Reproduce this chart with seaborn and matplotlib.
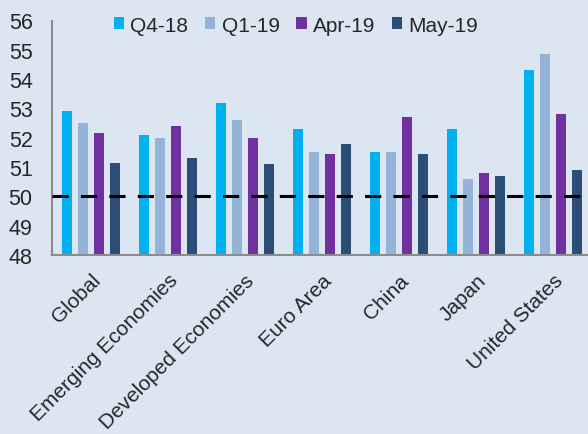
import pandas as pd
import matplotlib
matplotlib.use('Agg')
import matplotlib.pyplot as plt
import seaborn as sns

regions = ['Global', 'Emerging Economies', 'Developed Economies', 'Euro Area',
           'China', 'Japan', 'United States']
periods = ['Q4-18', 'Q1-19', 'Apr-19', 'May-19']
q4_18 = [52.9, 52.1, 53.2, 52.3, 51.5, 52.3, 54.3]
q1_19 = [52.5, 52.0, 52.6, 51.5, 51.5, 50.6, 54.85]
apr_19 = [52.15, 52.4, 52.0, 51.45, 52.7, 50.8, 52.8]
may_19 = [51.15, 51.3, 51.1, 51.8, 51.45, 50.7, 50.9]
colors = ['#00B0F0', '#95B3D7', '#7030A0', '#2C4D75']

rows = []
for name, vals in zip(periods, [q4_18, q1_19, apr_19, may_19]):
    for r, v in zip(regions, vals):
        rows.append({'region': r, 'period': name, 'value': v})
df = pd.DataFrame(rows)

sns.set_style('white')
plt.rcParams['font.family'] = ['Liberation Sans', 'DejaVu Sans']
bg = '#DCE6F2'

fig = plt.figure(figsize=(5.88, 4.35), dpi=100, facecolor=bg)
ax = fig.add_axes([52 / 588, 179 / 435, 540 / 588, 234.5 / 435])
ax.set_facecolor(bg)

sns.barplot(data=df, x='region', y='value', hue='period', hue_order=periods,
            palette=colors, width=0.83, gap=0.375, ax=ax, saturation=1,
            edgecolor='none')

ax.axhline(50, color='black', lw=2.2, dashes=(5.3, 4), zorder=5)

ax.set_ylim(48, 56)
ax.set_xlim(-0.5, len(regions) - 0.5)
ax.set_yticks(range(48, 57))
ax.set_xlabel('')
ax.set_ylabel('')

ax.set_xticks([i + 0.5 for i in range(len(regions) - 1)], minor=True)
ax.tick_params(axis='x', which='major', length=0, pad=11)
ax.tick_params(axis='x', which='minor', direction='in', length=5, width=1.2, color='#8C8C8C')
ax.tick_params(axis='y', direction='in', length=5, width=1.2, color='#8C8C8C',
               labelsize=15.5, pad=14)
plt.setp(ax.get_xticklabels(), rotation=45, ha='right', rotation_mode='anchor', fontsize=15)

for s in ['top', 'right']:
    ax.spines[s].set_visible(False)
for s in ['left', 'bottom']:
    ax.spines[s].set_color('#8C8C8C')
    ax.spines[s].set_linewidth(1.5)

leg = ax.legend(loc='upper center', bbox_to_anchor=(0.452, 1.10), ncol=4, frameon=False,
                fontsize=15, handlelength=0.5, handleheight=0.5, handletextpad=0.3,
                columnspacing=0.8)

fig.savefig('out.png', dpi=100, facecolor=bg)
